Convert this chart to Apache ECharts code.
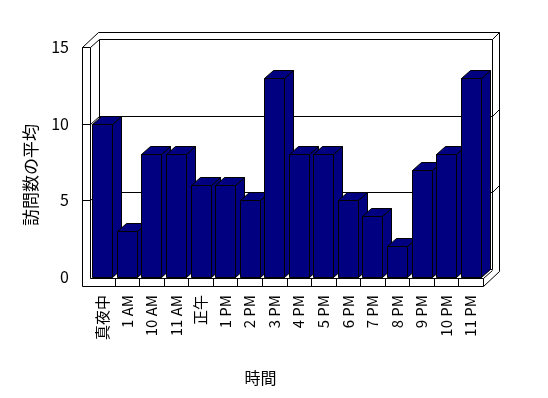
<!DOCTYPE html>
<html>
<head>
<meta charset="utf-8">
<script src="https://cdn.jsdelivr.net/npm/echarts@6/dist/echarts.min.js"></script>
<style>
  html, body { margin: 0; padding: 0; background: #fff; }
  #chart { width: 548px; height: 398px; }
</style>
</head>
<body>
<div id="chart"></div>
<script>
var categories = ['真夜中', '1 AM', '10 AM', '11 AM', '正午', '1 PM', '2 PM', '3 PM',
  '4 PM', '5 PM', '6 PM', '7 PM', '8 PM', '9 PM', '10 PM', '11 PM']
var visits = [10, 3, 8, 8, 6, 6, 5, 13, 8, 8, 5, 4, 2, 7, 8, 13]
var yTicks = [5, 10, 15]

// 3D look: depth of bars/walls, thickness of the back wall, side wall and floor
var DX = 9, DY = -8
var TX = 7, TY = -7
var WALL = 8
var FONT = 'Noto Sans CJK JP'

function p(n) { return Math.round(n) + 0.5 }

function seg(x1, y1, x2, y2) {
  return {
    type: 'line',
    shape: { x1: p(x1), y1: p(y1), x2: p(x2), y2: p(y2) },
    style: { stroke: '#000', lineWidth: 1 }
  }
}

function renderFrame(params, api) {
  var cs = params.coordSys
  var L = cs.x, T = cs.y, R = cs.x + cs.width, B = cs.y + cs.height
  var step = cs.width / categories.length
  var kids = []
  // left wall
  kids.push(seg(L - WALL, T, L - WALL, B + WALL + 1))
  kids.push(seg(L, T, L, B + 1))
  kids.push(seg(L - WALL, T, L - WALL + DX + TX, T + DY + TY))
  kids.push(seg(L, T, L + DX, T + DY))
  // top edges
  kids.push(seg(L - WALL + DX + TX, T + DY + TY, R + DX + TX, T + DY + TY))
  kids.push(seg(L + DX, T + DY, R + DX, T + DY))
  // back wall and right edge
  kids.push(seg(L + DX, T + DY, L + DX, B + DY))
  kids.push(seg(R + DX, T + DY, R + DX, B + DY))
  kids.push(seg(R + DX, T + DY, R + DX + TX, T + DY + TY))
  kids.push(seg(R + DX + TX, T + DY + TY, R + DX + TX, B + WALL + 1 + DY + TY))
  // floor
  kids.push(seg(L + DX, B + DY, R + DX, B + DY))
  kids.push(seg(L, B + 1, R, B + 1))
  kids.push(seg(L - WALL, B + WALL + 1, R, B + WALL + 1))
  kids.push(seg(R, B + 1, R, B + WALL + 1))
  kids.push(seg(R, B + 1, R + DX, B + 1 + DY))
  kids.push(seg(R, B + WALL + 1, R + DX + TX, B + WALL + 1 + DY + TY))
  for (var k = 1; k < categories.length; k++) {
    kids.push(seg(L + k * step, B + 1, L + k * step, B + WALL + 1))
  }
  // gridlines across side wall, back wall and right edge
  yTicks.forEach(function (v) {
    var y = api.coord([0, v])[1]
    kids.push(seg(L - WALL, y, L, y))
    if (v === 15) return
    kids.push(seg(L, y, L + DX, y + DY))
    kids.push(seg(L + DX, y + DY, R + DX, y + DY))
    kids.push(seg(R + DX, y + DY, R + DX + TX, y + DY + TY))
  })
  return { type: 'group', children: kids }
}

function renderBar(params, api) {
  var i = api.value(0)
  var top = api.coord([i, api.value(1)])
  var base = api.coord([i, 0])
  var w = Math.round(api.size([1, 0])[0] * 0.82)
  var x0 = Math.round(top[0] - w / 2) + 0.5, x1 = x0 + w
  var yT = Math.round(top[1]) + 0.5, yB = Math.round(base[1]) + 0.5
  var st = { fill: '#000080', stroke: '#000', lineWidth: 1 }
  return {
    type: 'group',
    children: [
      { type: 'polygon', shape: { points: [[x1, yT], [x1 + DX, yT + DY], [x1 + DX, yB + DY], [x1, yB]] }, style: st },
      { type: 'polygon', shape: { points: [[x0, yT], [x0 + DX, yT + DY], [x1 + DX, yT + DY], [x1, yT]] }, style: st },
      { type: 'rect', shape: { x: x0, y: yT, width: w, height: yB - yT }, style: st }
    ]
  }
}

var myChart = echarts.init(document.getElementById('chart'))
var option = {
  backgroundColor: '#fff',
  animation: false,
  grid: { left: 90, right: 65, top: 47, bottom: 121 },
  xAxis: {
    type: 'category',
    data: categories,
    name: '時間',
    nameLocation: 'middle',
    nameGap: 93,
    nameTextStyle: { fontFamily: FONT, fontSize: 16, color: '#000', padding: [0, 52, 0, 0] },
    axisLine: { show: false },
    axisTick: { show: false },
    axisLabel: { rotate: 90, interval: 0, margin: 18, fontFamily: FONT, fontSize: 15, color: '#000' }
  },
  yAxis: {
    type: 'value',
    min: 0,
    max: 15,
    interval: 5,
    name: '訪問数の平均',
    nameLocation: 'middle',
    nameGap: 51,
    nameTextStyle: { fontFamily: FONT, fontSize: 17, color: '#000', padding: [0, 26, 0, 0] },
    axisLine: { show: false },
    axisTick: { show: false },
    splitLine: { show: false },
    axisLabel: { margin: 21, fontFamily: FONT, fontSize: 16, color: '#000' }
  },
  series: [
    {
      type: 'custom',
      z: 1,
      silent: true,
      renderItem: renderFrame,
      data: [[0, 0]]
    },
    {
      type: 'custom',
      z: 2,
      renderItem: renderBar,
      encode: { x: 0, y: 1 },
      data: visits.map(function (v, i) { return [i, v] })
    }
  ]
}
myChart.setOption(option)
</script>
</body>
</html>
